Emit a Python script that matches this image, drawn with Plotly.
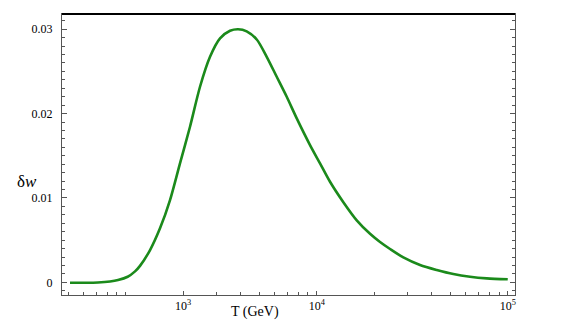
import plotly.graph_objects as go

# temperature (GeV) and delta w
T = [511, 612, 716, 828, 912, 1024, 1119, 1188, 1341, 1512, 1706, 1924, 2171,
     2449, 2763, 3117, 3517, 3873, 4300, 4852, 5473, 6175, 6966, 7859, 9224,
     10406, 11738, 13785, 16199, 19015, 21453, 24204, 28407, 34745, 42497,
     51906, 63478, 77625, 100000]
dw = [-0.00005, -0.00005, -0.00002, 0.0001, 0.00027, 0.00066, 0.0013, 0.00195,
      0.00383, 0.0064, 0.00975, 0.0141, 0.01844, 0.02318, 0.02673, 0.02891,
      0.02981, 0.03, 0.02975, 0.02878, 0.02673, 0.02436, 0.02199, 0.01943,
      0.01627, 0.0141, 0.01192, 0.0095, 0.00735, 0.00575, 0.00478, 0.00395,
      0.00295, 0.00205, 0.00146, 0.00098, 0.00066, 0.00047, 0.00036]

x_label_vals = [2000, 10000, 100000]
x_label_text = ["10<sup>3</sup>", "10<sup>4</sup>", "10<sup>5</sup>"]
x_minor = [500, 600, 700, 800, 900, 1000, 3000, 4000, 5000, 6000, 7000, 8000,
           9000, 20000, 30000, 40000, 50000, 60000, 70000, 80000, 90000]
y_major = [0, 0.01, 0.02, 0.03]
y_text = ["0", "0.01", "0.02", "0.03"]

serif = "Liberation Serif"
axcol = "#555555"

fig = go.Figure()
fig.add_trace(go.Scatter(x=T, y=dw, mode="lines",
                         line=dict(color="#1b8a1b", width=2.6, shape="spline", smoothing=0.8),
                         showlegend=False, hoverinfo="skip"))

fig.update_xaxes(type="log", range=[2.6665, 5.038], showgrid=False, zeroline=False,
                 showline=True, linecolor=axcol, linewidth=1, mirror=True,
                 ticks="inside", ticklen=4, tickcolor=axcol, tickwidth=1,
                 tickmode="array", tickvals=x_label_vals, ticktext=x_label_text,
                 minor=dict(ticks="inside", tickmode="array", tickvals=x_minor, ticklen=3,
                            tickcolor=axcol, tickwidth=1, showgrid=False),
                 tickfont=dict(family=serif, size=12, color="black"))
fig.update_yaxes(range=[-0.0015, 0.0318], showgrid=False, zeroline=False,
                 showline=True, linecolor=axcol, linewidth=1, mirror="ticks",
                 ticks="inside", ticklen=5, tickcolor=axcol, tickwidth=1,
                 tickmode="array", tickvals=y_major, ticktext=y_text,
                 minor=dict(ticks="inside", dtick=0.001, ticklen=3, tickcolor=axcol,
                            tickwidth=1, showgrid=False),
                 tickfont=dict(family=serif, size=12, color="black"), ticklabelstandoff=6)

# heavier black top edge of the frame
fig.add_shape(type="line", xref="paper", yref="paper", x0=0, x1=1, y0=1, y1=1,
              line=dict(color="black", width=2))

fig.add_annotation(text="δ<i>w</i>", xref="paper", yref="paper", x=-0.104, y=0.405,
                   showarrow=False, font=dict(family=serif, size=17, color="black"))
fig.add_annotation(text="T (GeV)", xref="paper", yref="paper", x=0.426, y=-0.06,
                   yanchor="middle", showarrow=False, font=dict(family=serif, size=14, color="black"))

# page body adds an 8px offset, so the figure is drawn a bit smaller
fig.update_layout(width=573, height=319, margin=dict(l=54, r=66, t=6, b=32),
                  plot_bgcolor="white", paper_bgcolor="white")

fig.write_html("out.html")
